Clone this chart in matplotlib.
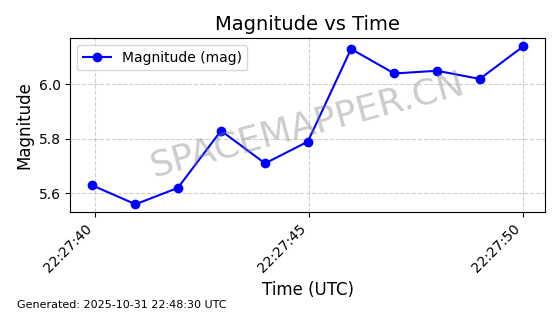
import matplotlib
matplotlib.use("Agg")
import matplotlib.pyplot as plt
import matplotlib.dates as mdates
import pandas as pd

time_strings = [
    "2025-10-31 22:27:39.93", "2025-10-31 22:27:40.95", "2025-10-31 22:27:41.94",
    "2025-10-31 22:27:42.95", "2025-10-31 22:27:43.98", "2025-10-31 22:27:44.98",
    "2025-10-31 22:27:45.99", "2025-10-31 22:27:47.00", "2025-10-31 22:27:48.00",
    "2025-10-31 22:27:49.00", "2025-10-31 22:27:50.02",
]
magnitudes = [5.63, 5.56, 5.62, 5.83, 5.71, 5.79, 6.13, 6.04, 6.05, 6.02, 6.14]
y_ticks = [5.6, 5.8, 6.0]
title = "Magnitude vs Time"
xlabel = "Time (UTC)"
ylabel = "Magnitude"
series_label = "Magnitude (mag)"
footer = "Generated: 2025-10-31 22:48:30 UTC"
watermark = "SPACEMAPPER.CN"

times = pd.to_datetime(time_strings)

fig, ax = plt.subplots(figsize=(5.6, 3.14), dpi=100)
ax.plot(times, magnitudes, marker="o", color="blue", linestyle="-", label=series_label)
ax.set_title(title, fontsize=14)
ax.set_xlabel(xlabel, fontsize=12)
ax.set_ylabel(ylabel, fontsize=12)
ax.grid(True, linestyle="--", alpha=0.6)
ax.legend(loc="upper left")
ax.xaxis.set_major_locator(mdates.SecondLocator(bysecond=list(range(0, 60, 5))))
ax.xaxis.set_major_formatter(mdates.DateFormatter("%H:%M:%S"))
plt.setp(ax.get_xticklabels(), rotation=45, ha="right")
ax.set_yticks(y_ticks)
ax.text(0.5, 0.5, watermark, transform=ax.transAxes, fontsize=26, color="gray",
        alpha=0.4, rotation=15, ha="center", va="center")
fig.tight_layout()
fig.text(0.03, 0.02, footer, fontsize=8)
fig.savefig("out.png", dpi=100)
